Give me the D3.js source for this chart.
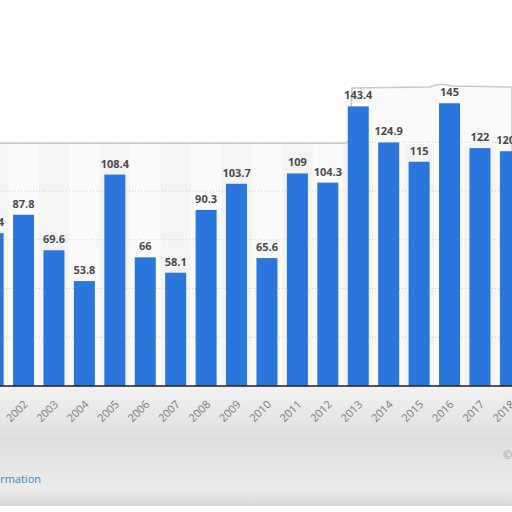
<!DOCTYPE html>
<html>
<head>
<meta charset="utf-8">
<script src="https://cdn.jsdelivr.net/npm/d3@7"></script>
<style>
  body { margin: 0; background: #fff; }
  svg { display: block; font-family: "Open Sans", "DejaVu Sans", sans-serif; }
</style>
</head>
<body>
<script>
var years = ["2001", "2002", "2003", "2004", "2005", "2006", "2007", "2008", "2009",
             "2010", "2011", "2012", "2013", "2014", "2015", "2016", "2017", "2018"];
var values = [78.4, 87.8, 69.6, 53.8, 108.4, 66, 58.1, 90.3, 103.7,
              65.6, 109, 104.3, 143.4, 124.9, 115, 145, 122, 120.4];
var gridValues = [25, 50, 75, 100, 125];

var totalWidth = 512;
var totalHeight = 512;
var baseY = 386;

var svg = d3.select("body")
    .append("svg")
    .attr("width", totalWidth)
    .attr("height", totalHeight);

var xScale = d3.scaleBand()
    .domain(years)
    .range([-22.1, 525.6])
    .paddingInner(0.31)
    .paddingOuter(0.155);

var yScale = d3.scaleLinear()
    .domain([0, 150])
    .range([baseY, baseY - 150 * 1.95]);

// panel background (stepped top edge like the reference)
var panelTop = yScale(125);
var panelTopRight = 86;
var panelPath = "M0," + (panelTop + 1) + " L345," + (panelTop + 1) +
    " Q349," + panelTop + " 350," + (panelTop - 4) +
    " L352," + (panelTopRight + 2) + " L430," + (panelTopRight + 1) +
    " Q440," + (panelTopRight - 4) + " 452," + panelTopRight +
    " L512," + (panelTopRight + 1) + " L512," + baseY + " L0," + baseY + " Z";

svg.append("path")
    .attr("d", panelPath)
    .attr("fill", "#fafafa")
    .attr("stroke", "#c8c8c8")
    .attr("stroke-width", 1.5);

// faint column banding
svg.append("g").selectAll("rect")
    .data(years.filter(function(d, i){ return i % 2 === 0; }))
    .enter().append("rect")
    .attr("x", function(d){ return xScale(d) - xScale.step() * 0.155; })
    .attr("y", panelTop + 2)
    .attr("width", xScale.step())
    .attr("height", baseY - panelTop - 2)
    .attr("fill", "#f4f4f4");

// gridlines
svg.append("g").selectAll("line")
    .data(gridValues)
    .enter().append("line")
    .attr("x1", 0)
    .attr("x2", totalWidth)
    .attr("y1", function(d){ return yScale(d); })
    .attr("y2", function(d){ return yScale(d); })
    .attr("stroke", "#cfcfcf")
    .attr("stroke-dasharray", "1,2");

// lower grey area
var defs = svg.append("defs");
var grad = defs.append("linearGradient")
    .attr("id", "lowgrad")
    .attr("x1", 0).attr("y1", 0).attr("x2", 0).attr("y2", 1);
grad.append("stop").attr("offset", "0%").attr("stop-color", "#f2f2f2");
grad.append("stop").attr("offset", "45%").attr("stop-color", "#dedede");
grad.append("stop").attr("offset", "85%").attr("stop-color", "#ececec");
grad.append("stop").attr("offset", "100%").attr("stop-color", "#d8d8d8");

svg.append("rect")
    .attr("x", 0)
    .attr("y", baseY)
    .attr("width", totalWidth)
    .attr("height", 120)
    .attr("fill", "url(#lowgrad)");

// bars
svg.append("g").selectAll("rect")
    .data(values)
    .enter().append("rect")
    .attr("x", function(d, i){ return xScale(years[i]); })
    .attr("y", function(d){ return yScale(d); })
    .attr("width", xScale.bandwidth())
    .attr("height", function(d){ return baseY - yScale(d); })
    .attr("fill", "#2a76dc");

// value labels
svg.append("g").selectAll("text")
    .data(values)
    .enter().append("text")
    .attr("x", function(d, i){ return xScale(years[i]) + xScale.bandwidth() / 2; })
    .attr("y", function(d){ return yScale(d) - 7; })
    .attr("text-anchor", "middle")
    .attr("font-size", 11)
    .attr("font-weight", "bold")
    .attr("fill", "#4a4a4a")
    .text(function(d){ return d; });

// baseline
svg.append("line")
    .attr("x1", 0)
    .attr("x2", totalWidth)
    .attr("y1", baseY)
    .attr("y2", baseY)
    .attr("stroke", "#222")
    .attr("stroke-width", 1.5);

// year labels
svg.append("g").selectAll("text")
    .data(years)
    .enter().append("text")
    .attr("transform", function(d){
        return "translate(" + (xScale(d) + xScale.bandwidth() / 2 + 5) + "," + (baseY + 19) + ") rotate(-45)";
    })
    .attr("text-anchor", "end")
    .attr("font-size", 11)
    .attr("fill", "#7a7a7a")
    .text(function(d){ return d; });

// footer bits
svg.append("text")
    .attr("x", 41)
    .attr("y", 483)
    .attr("text-anchor", "end")
    .attr("font-size", 11)
    .attr("fill", "#3a87c0")
    .text("Additional Information");

svg.append("text")
    .attr("x", 503)
    .attr("y", 459)
    .attr("font-size", 11)
    .attr("fill", "#999")
    .text("©");
</script>
</body>
</html>
